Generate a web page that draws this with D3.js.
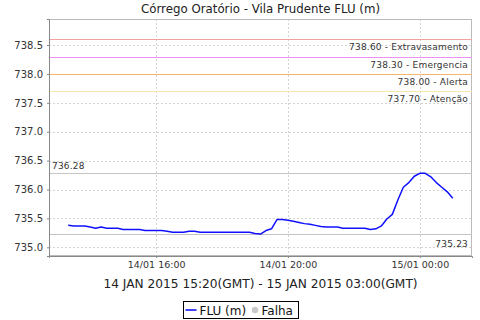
<!DOCTYPE html>
<html lang="pt">
  <head>
    <meta charset="UTF-8" />
    <title>Córrego Oratório - Vila Prudente FLU (m)</title>
    <script src="https://d3js.org/d3.v7.min.js"></script>
    <style>
      html,
      body {
        margin: 0;
        padding: 0;
        background-color: #fff;
        font-family: "DejaVu Sans", sans-serif;
      }
      .grid line {
        stroke: #d4d4d4;
        stroke-dasharray: 2, 2;
      }
      .axis text {
        fill: #333;
      }
    </style>
  </head>
  <body>
    <svg id="chart"></svg>
    <script>
      // Local times (GMT-2), one reading every 10 minutes from 13:20 to 01:00
      const startTime = "2015-01-14T13:20";
      const stepMinutes = 10;
      const levels = [
        735.38, 735.37, 735.37, 735.37, 735.35, 735.33, 735.35, 735.33, 735.33, 735.33,
        735.31, 735.31, 735.31, 735.31, 735.29, 735.29, 735.29, 735.29, 735.28, 735.26,
        735.26, 735.26, 735.28, 735.28, 735.26, 735.26, 735.26, 735.26, 735.26, 735.26,
        735.26, 735.26, 735.26, 735.26, 735.24, 735.23, 735.29, 735.32, 735.48, 735.48,
        735.47, 735.45, 735.43, 735.41, 735.40, 735.38, 735.36, 735.35, 735.35, 735.35,
        735.33, 735.33, 735.33, 735.33, 735.33, 735.31, 735.32, 735.37, 735.49, 735.57,
        735.82, 736.04, 736.12, 736.23, 736.28, 736.28, 736.22, 736.12, 736.04, 735.96,
        735.85
      ];

      // Threshold markers
      const markerValues = [738.6, 738.3, 738.0, 737.7];
      const markerNames = ["Extravasamento", "Emergencia", "Alerta", "Atenção"];
      const markerColors = ["#f2a0a0", "#ee90ee", "#f5b56a", "#f7e8a8"];

      const yTicks = [735.0, 735.5, 736.0, 736.5, 737.0, 737.5, 738.0, 738.5];
      const xTickTimes = ["2015-01-14T16:00", "2015-01-14T20:00", "2015-01-15T00:00"];

      const title = "Córrego Oratório - Vila Prudente FLU (m)";
      const subtitle = "14 JAN 2015 15:20(GMT) - 15 JAN 2015 03:00(GMT)";

      const W = 480, H = 320;
      const margin = { top: 19, right: 8, bottom: 64, left: 49 };
      const width = W - margin.left - margin.right;
      const height = H - margin.top - margin.bottom;

      const parse = d3.utcParse("%Y-%m-%dT%H:%M");
      const t0 = parse(startTime);
      const data = levels.map((v, i) => ({
        t: d3.utcMinute.offset(t0, i * stepMinutes),
        v: v,
      }));

      const svgRoot = d3.select("#chart").attr("width", W).attr("height", H);

      const svg = svgRoot
        .append("g")
        .attr("transform", `translate(${margin.left},${margin.top})`);

      // x scale with 5% margin on both sides
      const ext = d3.extent(data, (d) => d.t);
      const pad = (ext[1] - ext[0]) * 0.05;
      const x = d3
        .scaleUtc()
        .domain([new Date(+ext[0] - pad), new Date(+ext[1] + pad)])
        .range([0, width]);

      const y = d3.scaleLinear().domain([734.85, 738.95]).range([height, 0]);

      const xTicks = xTickTimes.map(parse);
      const fmt = d3.utcFormat("%d/%m %H:%M");

      // grid
      svg
        .append("g")
        .attr("class", "grid")
        .selectAll("line.h")
        .data(yTicks)
        .join("line")
        .attr("x1", 0)
        .attr("x2", width)
        .attr("y1", (d) => Math.round(y(d)) + 0.5)
        .attr("y2", (d) => Math.round(y(d)) + 0.5);

      svg
        .append("g")
        .attr("class", "grid")
        .selectAll("line.v")
        .data(xTicks)
        .join("line")
        .attr("y1", 0)
        .attr("y2", height)
        .attr("x1", (d) => Math.round(x(d)) + 0.5)
        .attr("x2", (d) => Math.round(x(d)) + 0.5);

      // plot border (top/right light)
      svg
        .append("rect")
        .attr("x", 0.5)
        .attr("y", 0.5)
        .attr("width", width - 1)
        .attr("height", height - 1)
        .attr("fill", "none")
        .attr("stroke", "#bbb");

      // threshold markers
      const marks = svg.append("g");
      markerValues.forEach((v, i) => {
        const yy = Math.round(y(v)) + 0.5;
        marks
          .append("line")
          .attr("x1", 0)
          .attr("x2", width)
          .attr("y1", yy)
          .attr("y2", yy)
          .attr("stroke", markerColors[i]);
        marks
          .append("text")
          .attr("x", width - 4)
          .attr("y", yy + 10)
          .attr("text-anchor", "end")
          .style("font-size", "9px")
          .style("letter-spacing", "0.2px")
          .attr("fill", "#333")
          .text(`${v.toFixed(2)} - ${markerNames[i]}`);
      });

      // max / min markers
      const maxV = d3.max(levels);
      const minV = d3.min(levels);
      const yMax = Math.round(y(maxV)) + 0.5;
      const yMin = Math.round(y(minV)) + 0.5;
      marks
        .append("line")
        .attr("x1", 0)
        .attr("x2", width)
        .attr("y1", yMax)
        .attr("y2", yMax)
        .attr("stroke", "#c4c4c4");
      marks
        .append("text")
        .attr("x", 3)
        .attr("y", yMax - 5)
        .style("font-size", "9px")
        .style("letter-spacing", "0.2px")
        .attr("fill", "#333")
        .text(maxV.toFixed(2));
      marks
        .append("line")
        .attr("x1", 0)
        .attr("x2", width)
        .attr("y1", yMin)
        .attr("y2", yMin)
        .attr("stroke", "#c4c4c4");
      marks
        .append("text")
        .attr("x", width - 4)
        .attr("y", yMin + 12)
        .attr("text-anchor", "end")
        .style("font-size", "9px")
        .style("letter-spacing", "0.2px")
        .attr("fill", "#333")
        .text(minV.toFixed(2));

      // data line
      const line = d3
        .line()
        .x((d) => x(d.t))
        .y((d) => y(d.v));
      svg
        .append("path")
        .datum(data)
        .attr("fill", "none")
        .attr("stroke", "#1010ff")
        .attr("stroke-width", 1.5)
        .attr("stroke-linejoin", "round")
        .attr("d", line);

      // axes
      const yAxis = svg
        .append("g")
        .attr("class", "axis")
        .call(
          d3
            .axisLeft(y)
            .tickValues(yTicks)
            .tickSize(2)
            .tickPadding(4)
            .tickFormat(d3.format(".1f"))
        );
      yAxis.selectAll("text").style("font-size", "10px").style("font-family", "DejaVu Sans");
      yAxis.select(".domain").attr("stroke", "#888");
      yAxis.selectAll(".tick line").attr("stroke", "#888");

      const xAxis = svg
        .append("g")
        .attr("class", "axis")
        .attr("transform", `translate(0,${height})`)
        .call(
          d3.axisBottom(x).tickValues(xTicks).tickSize(2).tickPadding(3).tickFormat(fmt)
        );
      xAxis.selectAll("text").style("font-size", "9.5px").style("font-family", "DejaVu Sans");
      xAxis.select(".domain").attr("stroke", "#888");
      xAxis.selectAll(".tick line").attr("stroke", "#888");

      // title and date range label
      svgRoot
        .append("text")
        .attr("x", margin.left + width / 2)
        .attr("y", 13)
        .attr("text-anchor", "middle")
        .style("font-size", "11.8px")
        .attr("fill", "#222")
        .text(title);

      svgRoot
        .append("text")
        .attr("x", margin.left + width / 2)
        .attr("y", 287.5)
        .attr("text-anchor", "middle")
        .style("font-size", "12.2px")
        .attr("fill", "#222")
        .text(subtitle);

      // legend
      const lg = svgRoot.append("g").attr("transform", "translate(183.5,301.5)");
      lg.append("rect")
        .attr("width", 115)
        .attr("height", 17)
        .attr("fill", "#fff")
        .attr("stroke", "#000");
      lg.append("line")
        .attr("x1", 2)
        .attr("x2", 13)
        .attr("y1", 8.5)
        .attr("y2", 8.5)
        .attr("stroke", "#1010ff")
        .attr("stroke-width", 1.6);
      lg.append("text")
        .attr("x", 16)
        .attr("y", 13)
        .style("font-size", "12px")
        .attr("fill", "#111")
        .text("FLU (m)");
      lg.append("circle")
        .attr("cx", 71.5)
        .attr("cy", 8.5)
        .attr("r", 3.2)
        .attr("fill", "#c8c8c8");
      lg.append("text")
        .attr("x", 78)
        .attr("y", 13)
        .style("font-size", "12px")
        .attr("fill", "#111")
        .text("Falha");
    </script>
  </body>
</html>
